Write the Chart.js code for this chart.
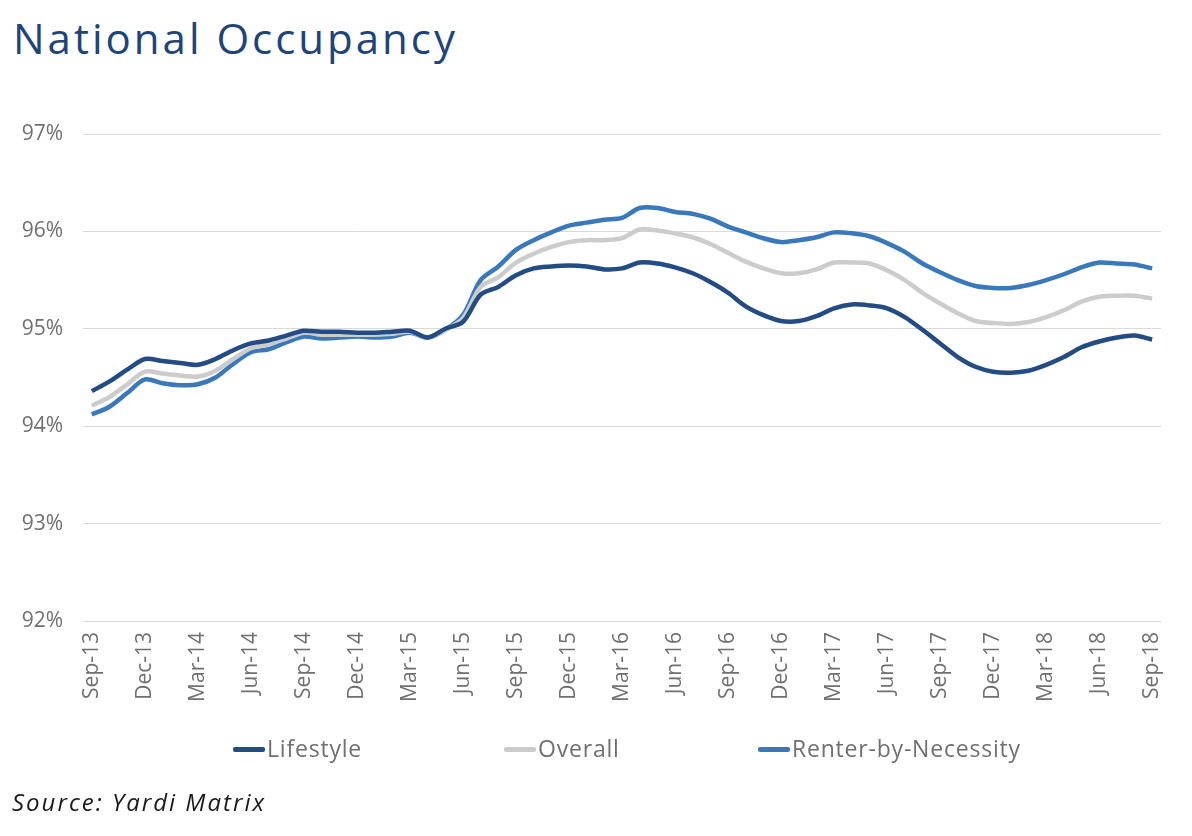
<!DOCTYPE html>
<html>
<head>
<meta charset="utf-8">
<script src="https://cdn.jsdelivr.net/npm/chart.js@4"></script>
<style>
  body { margin: 0; background: #fff; font-family: "Open Sans", sans-serif; }
  #wrap { position: relative; width: 1192px; height: 836px; }
  #chartBox { position: absolute; left: 0; top: 0; width: 1192px; height: 836px; }
  .title { position: absolute; left: 13px; top: 9px; font-size: 42px; color: #1f4479; letter-spacing: 3px; }
  .source { position: absolute; left: 12px; top: 785px; font-size: 24px; font-style: italic; color: #1a1a1a; letter-spacing: 2px; }
  .leg { position: absolute; top: 732px; font-size: 23px; color: #707070; white-space: nowrap; letter-spacing: 0.8px; }
  .leg i { display: inline-block; width: 32px; height: 5px; border-radius: 2px; vertical-align: middle; margin-right: 2px; position: relative; top: -1px; }
</style>
</head>
<body>
<div id="wrap">
  <div class="title">National Occupancy</div>
  <div id="chartBox"><canvas id="myChart"></canvas></div>
  <div class="leg" style="left:233px"><i style="background:#234b84"></i>Lifestyle</div>
  <div class="leg" style="left:504px"><i style="background:#cccccc"></i>Overall</div>
  <div class="leg" style="left:758px"><i style="background:#3a78bc"></i>Renter-by-Necessity</div>
  <div class="source">Source: Yardi Matrix</div>
</div>
<script>
const months = ['Jan', 'Feb', 'Mar', 'Apr', 'May', 'Jun', 'Jul', 'Aug', 'Sep', 'Oct', 'Nov', 'Dec'];
const labels = [];
for (let i = 0; i < 61; i++) {
    const m = (8 + i) % 12;
    const y = 13 + Math.floor((8 + i) / 12);
    labels.push(months[m] + '-' + y);
}

const lifestyle = [
    94.36, 94.46, 94.58, 94.69, 94.67, 94.65, 94.63, 94.69, 94.78, 94.85, 94.88, 94.93,
    94.98, 94.97, 94.97, 94.96, 94.96, 94.97, 94.98, 94.91, 95.00, 95.07, 95.35, 95.43,
    95.55, 95.62, 95.64, 95.65, 95.64, 95.61, 95.62, 95.68, 95.67, 95.63, 95.57, 95.48,
    95.37, 95.23, 95.14, 95.08, 95.08, 95.13, 95.21, 95.25, 95.24, 95.21, 95.12, 94.99,
    94.85, 94.71, 94.61, 94.56, 94.55, 94.57, 94.63, 94.71, 94.81, 94.87, 94.91, 94.93,
    94.89
];
const overall = [
    94.21, 94.30, 94.43, 94.56, 94.54, 94.52, 94.51, 94.57, 94.69, 94.80, 94.84, 94.90,
    94.96, 94.94, 94.94, 94.94, 94.94, 94.95, 94.97, 94.91, 94.99, 95.11, 95.43, 95.53,
    95.68, 95.77, 95.84, 95.89, 95.91, 95.91, 95.93, 96.02, 96.01, 95.98, 95.94, 95.87,
    95.78, 95.69, 95.62, 95.57, 95.57, 95.61, 95.68, 95.68, 95.67, 95.60, 95.50, 95.37,
    95.26, 95.16, 95.08, 95.06, 95.05, 95.07, 95.12, 95.19, 95.28, 95.33, 95.34, 95.34,
    95.31
];
const renterByNecessity = [
    94.12, 94.20, 94.34, 94.48, 94.44, 94.42, 94.43, 94.50, 94.64, 94.76, 94.79, 94.86,
    94.92, 94.90, 94.91, 94.92, 94.91, 94.92, 94.96, 94.91, 94.99, 95.14, 95.50, 95.64,
    95.81, 95.91, 95.99, 96.06, 96.09, 96.12, 96.14, 96.24, 96.24, 96.20, 96.18, 96.13,
    96.05, 95.99, 95.93, 95.89, 95.91, 95.94, 95.99, 95.98, 95.95, 95.88, 95.79, 95.67,
    95.58, 95.50, 95.44, 95.42, 95.42, 95.45, 95.50, 95.56, 95.63, 95.68, 95.67, 95.66,
    95.62
];

const ctx = document.getElementById('myChart').getContext('2d');
const line = (label, data, color) => ({
    label: label,
    data: data,
    borderColor: color,
    backgroundColor: color,
    borderWidth: 4.5,
    fill: false,
    pointRadius: 0,
    pointHoverRadius: 0,
    tension: 0.3
});

const config = {
    type: 'line',
    data: {
        labels: labels,
        datasets: [
            line('Lifestyle', lifestyle, '#234b84'),
            line('Overall', overall, '#cccccc'),
            line('Renter-by-Necessity', renterByNecessity, '#3a78bc')
        ]
    },
    options: {
        responsive: true,
        maintainAspectRatio: false,
        animation: false,
        layout: { padding: { left: 0, top: 134, right: 31, bottom: 115 } },
        scales: {
            x: {
                offset: true,
                grid: { display: false, drawTicks: false },
                border: { display: false },
                ticks: {
                    autoSkip: false,
                    maxRotation: 90,
                    minRotation: 90,
                    padding: 11,
                    color: '#707070',
                    font: { family: 'Open Sans', size: 21 },
                    callback: function (value, index) {
                        return index % 3 === 0 ? labels[index] : '';
                    }
                },
                afterFit: function (scale) { scale.height = 100; }
            },
            y: {
                min: 92,
                max: 97,
                grid: { color: '#d9d9d9', lineWidth: 1, drawTicks: false },
                border: { display: false },
                ticks: {
                    stepSize: 1,
                    padding: 20,
                    color: '#707070',
                    font: { family: 'Open Sans', size: 21 },
                    callback: function (value) {
                        return value + '%';
                    }
                },
                afterFit: function (scale) { scale.width = 83; }
            }
        },
        plugins: {
            legend: { display: false },
            tooltip: { enabled: false }
        }
    }
};

const myChart = new Chart(ctx, config);
</script>
</body>
</html>
